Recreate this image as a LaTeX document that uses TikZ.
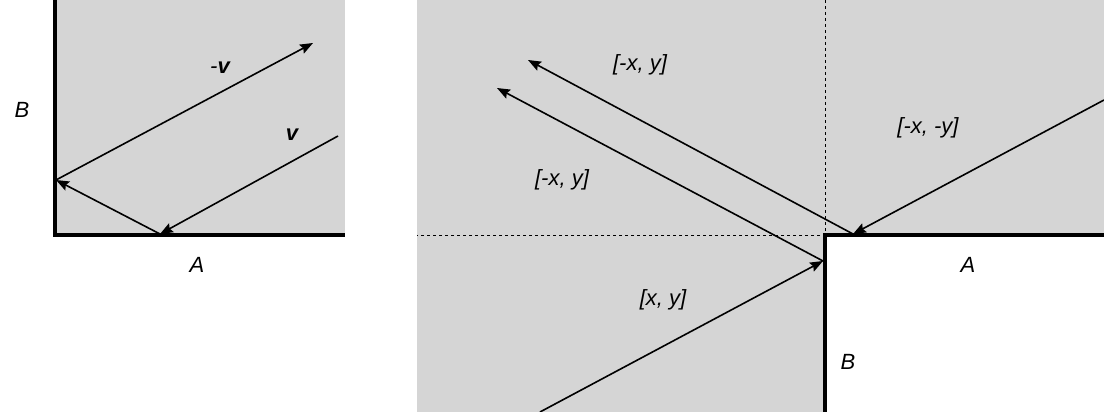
\documentclass[tikz,border=0pt]{standalone}
\usepackage{fontspec}
\setmainfont{Liberation Sans}
\usetikzlibrary{arrows.meta}
\begin{document}
\begin{tikzpicture}[x=1pt,y=-1pt,
  vec/.style={line width=1.6pt,-{Stealth[length=13pt,width=10pt,inset=2pt]}},
  wall/.style={line width=3.5pt},
  lbl/.style={font=\fontsize{22}{24}\selectfont\itshape}]
\useasboundingbox (0,0) rectangle (1104,412);
\fill[gray!33] (55,0) rectangle (345,235);
\fill[gray!33] (417,0) rectangle (1104,412);
\fill[white] (825,235) rectangle (1104,412);
% left panel
\coordinate (L1) at (338,136);
\coordinate (L2) at (160,234);
\coordinate (L3) at (56,180);
\coordinate (L4) at (313,43);
\draw[wall] (55,0) -- (55,235) -- (345,235);
\draw[vec] (L1) -- (L2);
\draw[vec] (L2) -- (L3);
\draw[vec] (L3) -- (L4);
\node[lbl] (nv1) at (220,68) {-\textbf{v}};
\node[lbl] (nv2) at (292,135) {\textbf{v}};
\node[lbl] (nB1) at (22,110) {B};
\node[lbl] (nA1) at (197,265) {A};
% right panel
\draw[dashed,line width=1pt] (825,0) -- (825,235) -- (417,235);
\draw[wall] (825,412) -- (825,235) -- (1104,235);
\coordinate (R1) at (540,412);
\coordinate (R2) at (823,261);
\coordinate (R3) at (497,88);
\coordinate (R4) at (1104,100);
\coordinate (R5) at (853,234);
\coordinate (R6) at (528,60);
\draw[vec] (R1) -- (R2);
\draw[vec] (R2) -- (R3);
\draw[vec] (R4) -- (R5);
\draw[vec] (R5) -- (R6);
\node[lbl] (t1) at (640,65) {[-x, y]};
\node[lbl] (t2) at (928,128) {[-x, -y]};
\node[lbl] (t3) at (562,180) {[-x, y]};
\node[lbl] (t4) at (663,300) {[x, y]};
\node[lbl] (nA2) at (968,265) {A};
\node[lbl] (nB2) at (848,362) {B};
\end{tikzpicture}
\end{document}
